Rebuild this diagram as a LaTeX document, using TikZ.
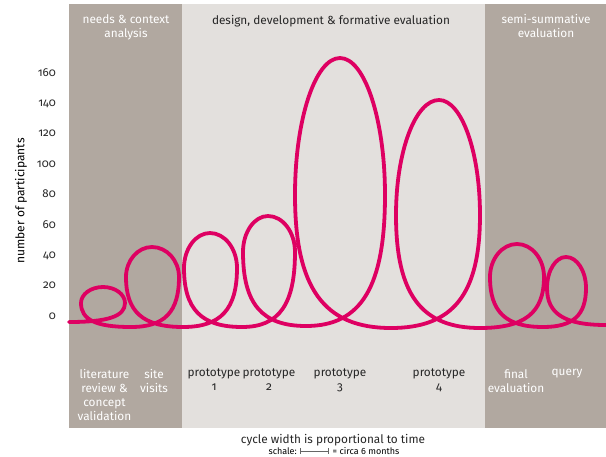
\documentclass[tikz,border=0pt]{standalone}
\usepackage{fontspec}
\setmainfont{Fira Sans}[Numbers=OldStyle]
\usepackage{tikz}

\definecolor{panel}{RGB}{177,168,160}
\definecolor{paper}{RGB}{227,224,221}
\definecolor{cycle}{RGB}{222,0,98}

\begin{document}
\begin{tikzpicture}[x=1pt,y=-1pt,
	every node/.style={inner sep=0pt},
	phase/.style={align=center,font=\fontsize{11.8}{14}\selectfont},
	whitephase/.style={phase,text=white},
	darkphase/.style={phase,text=black!85},
	num/.style={anchor=mid east,font=\fontsize{11.5}{12}\selectfont,text=black!85},
	cycleline/.style={draw=cycle,line width=3.8pt,line cap=round,line join=round}]
	\useasboundingbox (0,0) rectangle (606,456);
	\fill[panel] (69,4) rectangle (182,428);
	\fill[paper] (182,4) rectangle (485,428);
	\fill[panel] (485,4) rectangle (606,428);

	% phases
	\node[whitephase,anchor=north] (needs) at (126,14) {needs \& context\\analysis};
	\node[darkphase,anchor=north] (design) at (331,15.5) {design, development \& formative evaluation};
	\node[whitephase,anchor=north] (summ) at (546,14) {semi-summative\\evaluation};

	% axis
	\foreach \v in {0,20,...,160}
		\node[num] (n\v) at (56,{316.7-1.5208*\v}) {\v};
	\node[rotate=90,font=\fontsize{12}{12}\selectfont] (ylabel) at (21,201) {number of participants};

	% cycles
	\draw[cycleline] (69,322)
	\foreach \xp/\yp/\xl/\xr/\ym/\xt/\yt/\xd/\yd in {
		69/322/81/125/303/103/287/131/327,
		131/327/126/179/277/152/247/183/327,
		183/327/184/237/268/210/233/242/327,
		242/327/243/295/252/268/216/306/326,
		306/326/295/385/195/340/58/391/328,
		391/328/396/480/215/439/100/480/328,
		480/328/490/544/277/517/244/543/327,
		543/327/547/586/288/566/257/606/325}
	{ .. controls ({\xp+0.7*(\xr-\xp)},\yp) and (\xr,{\ym+0.7*(\yp-\ym)}) .. (\xr,\ym)
	  .. controls (\xr,{\ym-0.55*(\ym-\yt)}) and ({\xt+0.55*(\xr-\xt)},\yt) .. (\xt,\yt)
	  .. controls ({\xt-0.55*(\xt-\xl)},\yt) and (\xl,{\ym-0.55*(\ym-\yt)}) .. (\xl,\ym)
	  .. controls (\xl,{\ym+0.7*(\yd-\ym)}) and ({\xd-0.7*(\xd-\xl)},\yd) .. (\xd,\yd) };

	% steps
	\node[whitephase,anchor=north] (lit) at (104.5,369) {literature\\review \&\\concept\\validation};
	\node[whitephase,anchor=north] (site) at (154,369) {site\\visits};
	\node[darkphase,anchor=north] (p1) at (214,369) {prototype\\1};
	\node[darkphase,anchor=north] (p2) at (269,369) {prototype\\2};
	\node[darkphase,anchor=north] (p3) at (340,369) {prototype\\3};
	\node[darkphase,anchor=north] (p4) at (439,369) {prototype\\4};
	\node[whitephase,anchor=north] (final) at (516,369) {final\\evaluation};
	\node[whitephase,anchor=north] (query) at (567,369) {query};

	% time scale
	\node[darkphase] (caption) at (333,440) {cycle width is proportional to time};
	\coordinate (barL) at (300,451);
	\coordinate (barR) at (328.5,451);
	\node[anchor=east,font=\fontsize{9}{9}\selectfont] (schale) at ([xshift=-3pt]barL) {schale:};
	\node[anchor=west,font=\fontsize{9}{9}\selectfont] (months) at ([xshift=4pt]barR) {= circa 6 months};
	\draw[|-|,black!60,line width=0.5pt] (barL) -- (barR);
\end{tikzpicture}
\end{document}
